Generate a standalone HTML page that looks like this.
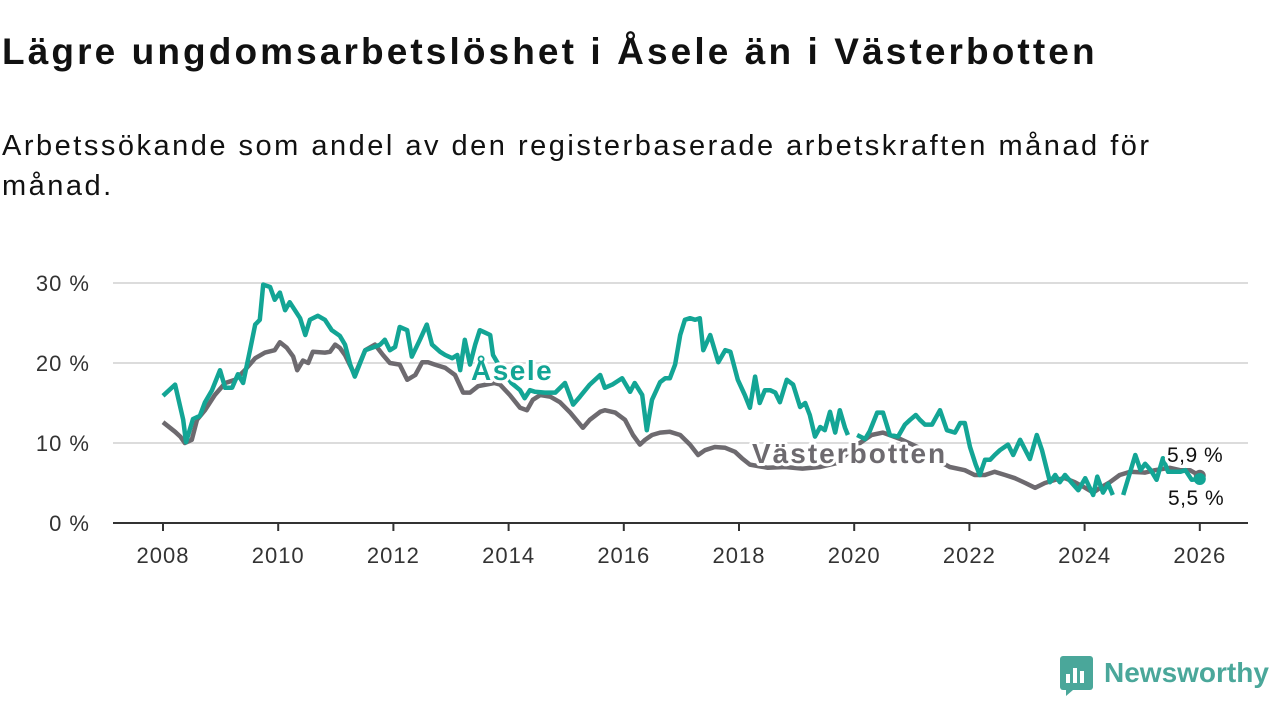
<!DOCTYPE html>
<html><head><meta charset="utf-8"><style>
body{margin:0;width:1280px;height:720px;background:#fff;font-family:"Liberation Sans",sans-serif;overflow:hidden;position:relative}
h1{position:absolute;left:2px;top:31px;margin:0;font-size:37px;font-weight:bold;color:#111;letter-spacing:3.1px}
p.sub{position:absolute;left:2px;top:126px;margin:0;font-size:29px;line-height:40px;color:#111;width:1250px;letter-spacing:2.5px}
svg{position:absolute;left:0;top:0}
</style></head><body>
<h1>Lägre ungdomsarbetslöshet i Åsele än i Västerbotten</h1>
<p class="sub">Arbetssökande som andel av den registerbaserade arbetskraften månad för<br>månad.</p>
<svg id="chart" width="1280" height="720"></svg>
<script>
const aseleYears=[2008.00,2008.21,2008.35,2008.40,2008.52,2008.64,2008.73,2008.85,2008.99,2009.08,2009.20,2009.30,2009.39,2009.51,2009.60,2009.68,2009.74,2009.86,2009.94,2010.03,2010.12,2010.20,2010.38,2010.47,2010.55,2010.69,2010.81,2010.93,2011.07,2011.16,2011.25,2011.33,2011.51,2011.63,2011.77,2011.85,2011.94,2012.03,2012.11,2012.24,2012.32,2012.46,2012.58,2012.67,2012.81,2012.90,2013.02,2013.11,2013.16,2013.24,2013.33,2013.42,2013.50,2013.59,2013.68,2013.73,2013.85,2014.05,2014.20,2014.28,2014.37,2014.46,2014.63,2014.81,2014.98,2015.12,2015.24,2015.41,2015.59,2015.67,2015.80,2015.97,2016.11,2016.19,2016.32,2016.40,2016.49,2016.63,2016.72,2016.80,2016.89,2016.98,2017.06,2017.15,2017.24,2017.32,2017.38,2017.50,2017.64,2017.76,2017.85,2017.98,2018.10,2018.19,2018.28,2018.36,2018.45,2018.54,2018.63,2018.71,2018.83,2018.94,2019.06,2019.15,2019.23,2019.32,2019.41,2019.49,2019.58,2019.67,2019.75,2019.84,2019.89,2019.95,2020.05,2020.19,2020.27,2020.40,2020.50,2020.62,2020.76,2020.88,2020.97,2021.07,2021.14,2021.23,2021.35,2021.49,2021.61,2021.75,2021.84,2021.92,2022.01,2022.11,2022.18,2022.27,2022.36,2022.44,2022.53,2022.67,2022.76,2022.88,2023.05,2023.17,2023.26,2023.40,2023.49,2023.57,2023.66,2023.78,2023.89,2024.01,2024.15,2024.22,2024.32,2024.41,2024.49,2024.57,2024.67,2024.88,2024.97,2025.05,2025.15,2025.25,2025.36,2025.45,2025.66,2025.75,2025.86,2026.00];
const aseleValues=[15.9,17.3,12.9,10.1,13.0,13.4,15.1,16.6,19.1,16.9,16.9,18.6,17.5,21.6,24.8,25.4,29.8,29.5,27.9,28.8,26.6,27.6,25.6,23.5,25.4,25.9,25.4,24.1,23.4,22.3,19.8,18.3,21.6,21.9,22.3,22.9,21.6,22.0,24.5,24.1,20.8,22.9,24.8,22.3,21.4,21.0,20.6,21.0,19.1,22.9,19.8,22.3,24.1,23.8,23.5,21.0,19.5,17.5,16.6,15.6,16.6,16.4,16.3,16.3,17.5,14.8,15.8,17.3,18.5,16.9,17.3,18.1,16.4,17.5,16.0,11.6,15.4,17.6,18.1,18.1,19.8,23.5,25.4,25.6,25.4,25.6,21.6,23.5,20.1,21.6,21.4,17.9,16.0,14.4,18.3,15.0,16.6,16.6,16.3,15.1,17.9,17.3,14.5,15.0,13.5,10.8,12.0,11.6,13.9,11.3,14.1,11.9,11.0,null,11.0,10.5,11.5,13.8,13.8,11.0,10.8,12.3,12.9,13.5,12.9,12.3,12.3,14.1,11.6,11.3,12.5,12.5,9.5,7.3,6.0,7.9,7.9,8.5,9.1,9.8,8.5,10.4,8.0,11.0,9.1,5.1,6.0,5.1,6.0,5.0,4.1,5.6,3.5,5.8,3.8,4.9,3.5,null,3.5,8.5,6.6,7.4,6.6,5.4,8.1,6.4,6.4,6.6,5.4,5.5];
const vbYears=[2008.00,2008.21,2008.30,2008.38,2008.50,2008.59,2008.73,2008.90,2009.08,2009.25,2009.42,2009.60,2009.77,2009.94,2010.03,2010.15,2010.26,2010.33,2010.43,2010.52,2010.60,2010.81,2010.90,2010.99,2011.07,2011.16,2011.33,2011.51,2011.68,2011.82,2011.94,2012.11,2012.24,2012.38,2012.50,2012.60,2012.72,2012.90,2013.07,2013.21,2013.33,2013.47,2013.75,2013.85,2014.02,2014.20,2014.32,2014.42,2014.55,2014.72,2014.89,2015.07,2015.29,2015.41,2015.59,2015.67,2015.85,2016.02,2016.16,2016.28,2016.37,2016.49,2016.63,2016.80,2016.98,2017.15,2017.29,2017.41,2017.58,2017.76,2017.93,2018.05,2018.19,2018.50,2018.80,2019.10,2019.40,2019.70,2020.00,2020.30,2020.50,2020.80,2021.10,2021.40,2021.66,2021.92,2022.09,2022.27,2022.44,2022.62,2022.79,2022.97,2023.14,2023.31,2023.49,2023.66,2023.83,2024.01,2024.15,2024.27,2024.44,2024.61,2024.79,2025.05,2025.22,2025.48,2025.66,2025.83,2026.00];
const vbValues=[12.6,11.4,10.8,10.0,10.4,12.9,14.1,16.0,17.5,17.9,19.1,20.6,21.3,21.6,22.6,21.9,20.8,19.1,20.3,20.0,21.4,21.3,21.4,22.3,21.9,21.0,18.5,21.6,22.3,21.0,20.0,19.8,17.9,18.5,20.1,20.1,19.8,19.4,18.5,16.3,16.3,17.1,17.5,17.3,16.0,14.4,14.1,15.4,16.0,15.8,15.1,13.8,11.9,12.9,13.9,14.1,13.8,12.9,11.0,9.8,10.4,11.0,11.3,11.4,11.0,9.8,8.5,9.1,9.5,9.4,8.9,8.1,7.3,6.9,7.0,6.8,7.0,7.5,9.5,11.0,11.3,10.5,9.5,8.0,7.0,6.6,6.0,6.0,6.4,6.0,5.6,5.0,4.4,5.0,5.4,5.6,5.1,4.4,3.8,4.4,5.1,6.0,6.4,6.3,6.6,6.9,6.6,6.6,5.9];
const yTicks=[0,10,20,30];
const xTicks=[2008,2010,2012,2014,2016,2018,2020,2022,2024,2026];

const svg=document.getElementById('chart');
const NS='http://www.w3.org/2000/svg';
const X=y=>163+(y-2008)*57.6;
const Y=v=>523-v*8;
function mk(t,a,p){const e=document.createElementNS(NS,t);for(const k in a)e.setAttribute(k,a[k]);(p||svg).appendChild(e);return e;}
yTicks.forEach(v=>{
  if(v>0){const g=mk('line',{x1:113,x2:1248,y1:Y(v),y2:Y(v),stroke:'#dcdcdc','stroke-width':2});
  
  }
  const t=mk('text',{x:90,y:Y(v)+8,'text-anchor':'end','font-size':22,'letter-spacing':1,fill:'#333'});
  t.textContent=v+' %';
  
  
});
const ax=mk('line',{x1:113,x2:1248,y1:523,y2:523,stroke:'#333','stroke-width':2});


xTicks.forEach(yr=>{
  const tk=mk('line',{x1:X(yr),x2:X(yr),y1:523,y2:531,stroke:'#333','stroke-width':2});
  
  
  const t=mk('text',{x:X(yr),y:563,'text-anchor':'middle','font-size':22,'letter-spacing':1,fill:'#333'});
  t.textContent=yr;
  
  
});
function path(xs,vs){let d='',pen=false;xs.forEach((x,i)=>{const v=vs[i];if(v===null){pen=false;return;}d+=(pen?'L':'M')+X(x).toFixed(1)+','+Y(v).toFixed(1);pen=true;});return d;}
const vb=mk('path',{d:path(vbYears,vbValues),fill:'none',stroke:'#6d6a6f','stroke-width':4.5,'stroke-linejoin':'round'});


const as=mk('path',{d:path(aseleYears,aseleValues),fill:'none',stroke:'#13a595','stroke-width':4.5,'stroke-linejoin':'round'});


const d1=mk('circle',{cx:X(vbYears[vbYears.length-1]),cy:Y(vbValues[vbValues.length-1]),r:6,fill:'#6d6a6f'});


const d2=mk('circle',{cx:X(aseleYears[aseleYears.length-1]),cy:Y(aseleValues[aseleValues.length-1]),r:6,fill:'#13a595'});


function label(x,y,txt,fill,size,bold,ls,name){
  const t=mk('text',{x:x,y:y,'font-size':size,'font-weight':bold?'bold':'normal','letter-spacing':ls,fill:fill,stroke:'#fff','stroke-width':6,'paint-order':'stroke','stroke-linejoin':'round'});
  t.textContent=txt;
  
  
}
label(471,380,'Åsele','#13a595',28,true,1.5,'asele-label');
label(752,463,'Västerbotten','#6d6a6f',28,true,2,'vasterbotten-label');
label(1167,462,'5,9 %','#111',21,false,0.5,'vasterbotten-end-value');
label(1168,505,'5,5 %','#111',21,false,0.5,'asele-end-value');
</script>
<svg width="1280" height="720" style="pointer-events:none">
  <rect x="1060" y="656" width="33" height="34" rx="3" fill="#4aa79a"/>
  <rect x="1066" y="674" width="4" height="9" fill="#fff"/><rect x="1073" y="668" width="4" height="15" fill="#fff"/><rect x="1080" y="671" width="4" height="12" fill="#fff"/>
  <path d="M1066 690 L1066 696 L1073 690 Z" fill="#4aa79a"/>
  <text x="1104" y="682" font-size="28" font-weight="bold" fill="#4aa79a" font-family="Liberation Sans, sans-serif">Newsworthy</text>
</svg>
</body></html>
